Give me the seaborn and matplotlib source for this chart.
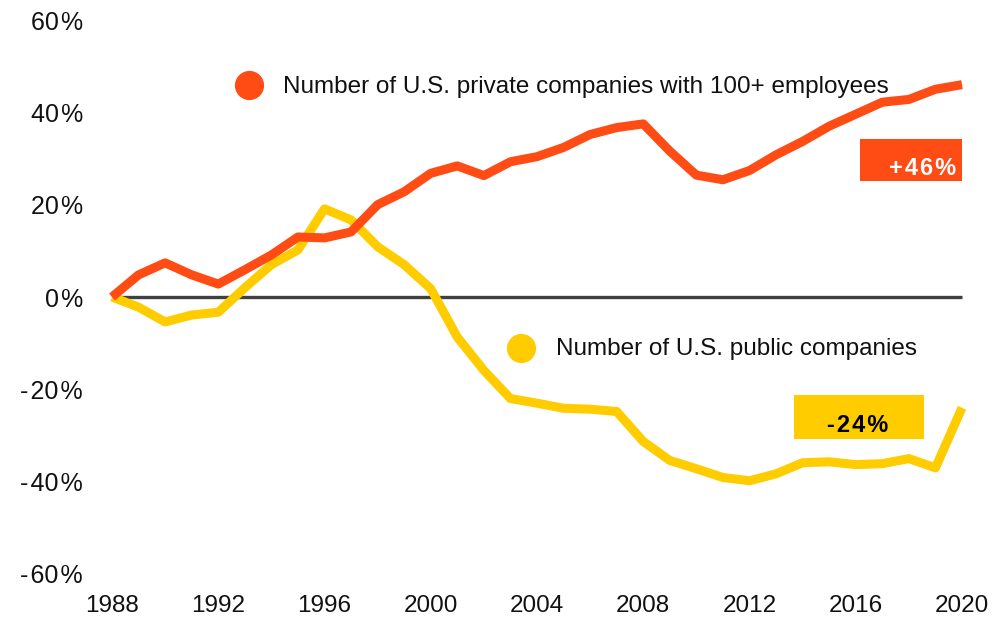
import matplotlib
matplotlib.use("Agg")
import matplotlib.pyplot as plt
from matplotlib.patches import Rectangle
import seaborn as sns
import pandas as pd

# Cumulative change since 1988, in percent
years = list(range(1988, 2021))
private_100plus = [0.0, 4.8, 7.4, 4.8, 2.8, 5.9, 9.1, 13.0, 12.8, 14.1, 20.0, 22.8, 26.8,
                   28.4, 26.3, 29.3, 30.4, 32.4, 35.2, 36.7, 37.5, 31.6, 26.4, 25.4, 27.4,
                   30.8, 33.7, 37.0, 39.6, 42.2, 42.8, 45.0, 46.0]
public_cos = [0.0, -2.2, -5.4, -3.9, -3.3, 2.0, 7.0, 10.2, 19.1, 16.7, 10.9, 7.0, 1.8,
              -8.7, -15.9, -22.0, -23.0, -24.1, -24.3, -24.8, -31.3, -35.4, -37.2, -39.1,
              -39.8, -38.3, -35.9, -35.7, -36.3, -36.1, -35.0, -37.0, -24.0]
y_ticks = [-60, -40, -20, 0, 20, 40, 60]
x_ticks = list(range(1988, 2021, 4))

label_private = "Number of U.S. private companies with 100+ employees"
label_public = "Number of U.S. public companies"

RED = "#FF4B14"
YELLOW = "#FFCC00"
HAIR = "\u200a"


def spaced(s):
    """Loosen the letter spacing of a short label."""
    return HAIR.join(s)


def pct_tick(v):
    """Percent tick label with a little air around the sign and the % symbol."""
    sign = "-" + HAIR if v < 0 else ""
    return f"{sign}{abs(v)}{HAIR}%"


sns.set_style("white")
plt.rcParams["font.family"] = ["Liberation Sans", "DejaVu Sans"]

df = pd.DataFrame({"year": years * 2,
                   "change": private_100plus + public_cos,
                   "series": [label_private] * len(years) + [label_public] * len(years)})

fig = plt.figure(figsize=(10, 6.2), dpi=100)
ax = fig.add_axes([0.112, 0.0742, 0.85, 0.8935])

ax.axhline(0, color="#404040", lw=2.4, zorder=1)
sns.lineplot(data=df, x="year", y="change", hue="series",
             palette={label_private: RED, label_public: YELLOW},
             hue_order=[label_public, label_private],
             linewidth=6.5, legend=False, ax=ax, zorder=3)
for line in ax.lines:
    line.set_clip_on(False)
    line.set_solid_capstyle("butt")

ax.set_xlim(1988, 2020)
ax.set_ylim(-60, 60)
ax.set_xticks(x_ticks)
ax.set_yticks(y_ticks)
ax.set_yticklabels([pct_tick(v) for v in y_ticks])
ax.tick_params(axis="y", length=0, labelsize=18, colors="#111111", pad=21)
ax.tick_params(axis="x", length=0, labelsize=17.5, colors="#111111", pad=15)
ax.set_xlabel("")
ax.set_ylabel("")
for s in ax.spines.values():
    s.set_visible(False)

# Series labels with round markers
ax.plot([1993.15], [45.9], "o", ms=20, color=RED, clip_on=False, zorder=4)
ax.text(1994.45, 45.6, label_private, fontsize=17.5, va="center", ha="left", color="#111111")
ax.plot([2003.4], [-11.05], "o", ms=20, color=YELLOW, clip_on=False, zorder=4)
ax.text(2004.7, -11.3, label_public, fontsize=17.5, va="center", ha="left", color="#111111")

# End-value boxes
ax.add_patch(Rectangle((2016.16, 25.1), 3.84, 9.1, fc=RED, ec="none", zorder=4, clip_on=False))
ax.text(2018.53, 27.9, spaced(f"+{private_100plus[-1]:.0f}%"), fontsize=17, fontweight="bold",
        color="white", ha="center", va="center", zorder=5)
ax.add_patch(Rectangle((2013.67, -30.8), 4.9, 9.6, fc=YELLOW, ec="none", zorder=4, clip_on=False))
ax.text(2016.08, -27.9, spaced(f"{public_cos[-1]:.0f}%"), fontsize=17, fontweight="bold",
        color="black", ha="center", va="center", zorder=5)

fig.savefig("out.png", dpi=100)
